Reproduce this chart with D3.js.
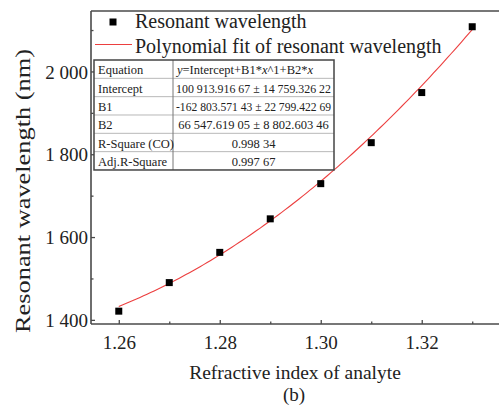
<!DOCTYPE html>
<html>
<head>
<meta charset="utf-8">
<script src="https://cdn.jsdelivr.net/npm/d3@7"></script>
<style>
  html, body { margin: 0; padding: 0; background: #fff; }
  svg, svg text { font-family: "Liberation Serif", Tinos, "Times New Roman", "DejaVu Serif", serif; }
</style>
</head>
<body>
<svg id="chart" width="499" height="410"></svg>
<script>
// Measured resonant wavelength versus analyte refractive index
const refractiveIndex = [1.26, 1.27, 1.28, 1.29, 1.30, 1.31, 1.32, 1.33];
const wavelength = [1421, 1490, 1563, 1644, 1729, 1828, 1949, 2108];

// Quadratic fit coefficients (y = Intercept + B1*x + B2*x^2)
const fitIntercept = 100913.91667;
const fitB1 = -162803.57143;
const fitB2 = 66547.61905;

// Axis ticks
const xMajorTicks = [1.26, 1.28, 1.30, 1.32];
const xMinorTicks = [1.27, 1.29, 1.31, 1.33];
const yMajorTicks = [1400, 1600, 1800, 2000];
const yMinorTicks = [1500, 1700, 1900, 2100];

// Fit statistics table
const tableLabels = ["Equation", "Intercept", "B1", "B2", "R-Square (CO)", "Adj.R-Square"];
const tableValues = [
  null,
  "100 913.916 67 \u00B1 14 759.326 22",
  "-162 803.571 43 \u00B1 22 799.422 69",
  "66 547.619 05 \u00B1 8 802.603 46",
  "0.998 34",
  "0.997 67"
];

const legendLabels = ["Resonant wavelength", "Polynomial fit of resonant wavelength"];

const serif = "'Liberation Serif', Tinos, 'Times New Roman', serif";
const svg = d3.select("#chart").attr("font-family", serif);
const plotLeft = 91, plotRight = 500, plotTop = 11, plotBottom = 324;

const x = d3.scaleLinear().domain([1.2545, 1.3355]).range([plotLeft, plotRight]);
const y = d3.scaleLinear().domain([1390, 2146]).range([plotBottom, plotTop]);

const frameColor = "#4a4a4a";
const fitColor = "#ec3f3f";
const textColor = "#222";

// Frame
svg.append("line").attr("x1", plotLeft).attr("x2", plotLeft).attr("y1", plotTop).attr("y2", plotBottom)
  .attr("stroke", frameColor).attr("stroke-width", 1.6);
svg.append("line").attr("x1", plotLeft).attr("x2", plotRight).attr("y1", plotBottom).attr("y2", plotBottom)
  .attr("stroke", frameColor).attr("stroke-width", 1.6);
svg.append("line").attr("x1", plotLeft).attr("x2", plotRight).attr("y1", plotTop).attr("y2", plotTop)
  .attr("stroke", frameColor).attr("stroke-width", 1.6);

// Y axis (inward ticks)
const yAxis = svg.append("g").attr("transform", `translate(${plotLeft},0)`)
  .call(d3.axisLeft(y).tickValues(yMajorTicks).tickSize(-4).tickSizeOuter(0).tickPadding(3)
    .tickFormat(v => d3.format(",")(v).replace(",", " ")));
yAxis.attr("font-family", serif);
yAxis.select(".domain").remove();
yAxis.selectAll("line").attr("stroke", frameColor).attr("stroke-width", 1.3);
yAxis.selectAll("text").attr("font-size", 19).attr("fill", textColor)
  .attr("font-family", serif).attr("dy", "0.35em");

const yMinor = svg.append("g").attr("transform", `translate(${plotLeft},0)`)
  .call(d3.axisLeft(y).tickValues(yMinorTicks).tickSize(-2.5).tickFormat(""));
yMinor.select(".domain").remove();
yMinor.selectAll("line").attr("stroke", frameColor).attr("stroke-width", 1.3);

// X axis (inward ticks)
const xAxis = svg.append("g").attr("transform", `translate(0,${plotBottom})`)
  .call(d3.axisBottom(x).tickValues(xMajorTicks).tickSize(-4).tickSizeOuter(0).tickPadding(12)
    .tickFormat(d3.format(".2f")));
xAxis.attr("font-family", serif);
xAxis.select(".domain").remove();
xAxis.selectAll("line").attr("stroke", frameColor).attr("stroke-width", 1.3);
xAxis.selectAll("text").attr("font-size", 19).attr("fill", textColor)
  .attr("font-family", serif);

const xMinor = svg.append("g").attr("transform", `translate(0,${plotBottom})`)
  .call(d3.axisBottom(x).tickValues(xMinorTicks).tickSize(-2.5).tickFormat(""));
xMinor.select(".domain").remove();
xMinor.selectAll("line").attr("stroke", frameColor).attr("stroke-width", 1.3);

// Axis titles
svg.append("text")
  .attr("transform", `translate(30,191) rotate(-90)`)
  .attr("text-anchor", "middle")
  .attr("font-family", serif)
  .attr("font-size", 20).attr("fill", textColor)
  .attr("textLength", 284).attr("lengthAdjust", "spacingAndGlyphs")
  .text("Resonant wavelength (nm)");

svg.append("text")
  .attr("x", 295).attr("y", 379)
  .attr("text-anchor", "middle")
  .attr("font-family", serif)
  .attr("font-size", 19.5).attr("fill", textColor)
  .text("Refractive index of analyte");

svg.append("text")
  .attr("x", 294).attr("y", 401)
  .attr("text-anchor", "middle")
  .attr("font-family", serif)
  .attr("font-size", 19).attr("fill", textColor)
  .text("(b)");

// Fit curve from the tabulated coefficients
const fitFn = v => fitIntercept + fitB1 * v + fitB2 * v * v;
const xs = d3.range(0, 101).map(i => 1.26 + (1.33 - 1.26) * i / 100);
svg.append("path")
  .datum(xs)
  .attr("fill", "none")
  .attr("stroke", fitColor)
  .attr("stroke-width", 1.1)
  .attr("d", d3.line().x(v => x(v)).y(v => y(fitFn(v))));

// Data markers
const ms = 7;
svg.append("g").selectAll("rect")
  .data(refractiveIndex.map((v, i) => [v, wavelength[i]]))
  .join("rect")
  .attr("x", d => x(d[0]) - ms / 2)
  .attr("y", d => y(d[1]) - ms / 2)
  .attr("width", ms).attr("height", ms)
  .attr("fill", "#000");

// Legend
const legend = svg.append("g").attr("font-family", serif);
legend.append("rect").attr("x", 113 - 3.5).attr("y", 22 - 3.5).attr("width", 7).attr("height", 7).attr("fill", "#000");
legend.append("text").attr("x", 135).attr("y", 28).attr("font-size", 20).attr("fill", textColor)
  .attr("font-family", serif).text(legendLabels[0]);
legend.append("line").attr("x1", 95).attr("x2", 132).attr("y1", 44.5).attr("y2", 44.5)
  .attr("stroke", fitColor).attr("stroke-width", 1.2);
legend.append("text").attr("x", 135).attr("y", 53).attr("font-size", 20).attr("fill", textColor)
  .attr("font-family", serif).text(legendLabels[1]);

// Statistics table
const tX0 = 94, tX1 = 173, tX2 = 334, tY0 = 60, rowH = 18.33;
const table = svg.append("g").attr("font-family", serif);
table.append("rect").attr("x", tX0).attr("y", tY0).attr("width", tX2 - tX0).attr("height", rowH * 6)
  .attr("fill", "#fff");
for (let i = 1; i < 6; i++) {
  table.append("line").attr("x1", tX0).attr("x2", tX2)
    .attr("y1", tY0 + i * rowH).attr("y2", tY0 + i * rowH)
    .attr("stroke", "#b8b8b8").attr("stroke-width", 1);
}
table.append("line").attr("x1", tX1).attr("x2", tX1).attr("y1", tY0).attr("y2", tY0 + rowH * 6)
  .attr("stroke", "#777").attr("stroke-width", 1);
table.append("rect").attr("x", tX0).attr("y", tY0).attr("width", tX2 - tX0).attr("height", rowH * 6)
  .attr("fill", "none").attr("stroke", "#444").attr("stroke-width", 1.5);

tableLabels.forEach((lab, i) => {
  table.append("text").attr("x", tX0 + 4).attr("y", tY0 + i * rowH + 14.3)
    .attr("font-family", serif)
    .attr("font-size", 12.5).attr("fill", textColor).text(lab);
});

// Equation row with italic variables
const eq = table.append("text").attr("x", tX1 + 4).attr("y", tY0 + 14.3)
  .attr("font-family", serif)
  .attr("font-size", 12.5).attr("fill", textColor);
eq.append("tspan").attr("font-style", "italic").text("y");
eq.append("tspan").text("=Intercept+B1*");
eq.append("tspan").attr("font-style", "italic").text("x");
eq.append("tspan").text("^1+B2*");
eq.append("tspan").attr("font-style", "italic").text("x");

tableValues.forEach((val, i) => {
  if (!val) return;
  const t = table.append("text").attr("x", (tX1 + tX2) / 2).attr("y", tY0 + i * rowH + 14.3)
    .attr("font-family", serif)
    .attr("text-anchor", "middle").attr("font-size", 12.5).attr("fill", textColor).text(val);
  const w = t.node().getComputedTextLength();
  const maxW = tX2 - tX1 - 6;
  if (w > maxW) t.attr("textLength", maxW).attr("lengthAdjust", "spacingAndGlyphs");
});
</script>
</body>
</html>
